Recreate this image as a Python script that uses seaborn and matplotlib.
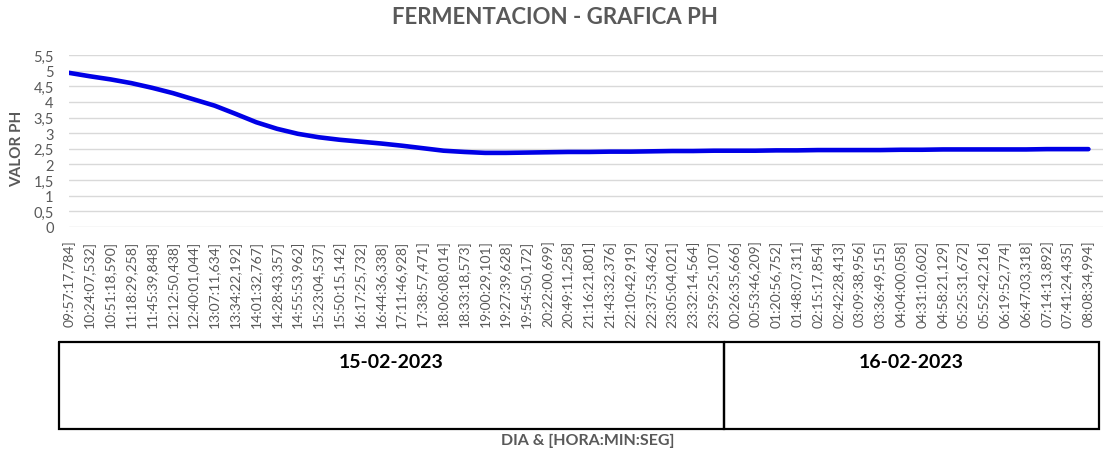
import matplotlib
matplotlib.use("Agg")
import matplotlib.pyplot as plt
import matplotlib.transforms as mtransforms
import numpy as np
import pandas as pd
import seaborn as sns

# Sample timestamps (one per category label) and the day each belongs to
times = [
    "09:57:17,784", "10:24:07,532", "10:51:18,590", "11:18:29,258", "11:45:39,848",
    "12:12:50,438", "12:40:01,044", "13:07:11,634", "13:34:22,192", "14:01:32,767",
    "14:28:43,357", "14:55:53,962", "15:23:04,537", "15:50:15,142", "16:17:25,732",
    "16:44:36,338", "17:11:46,928", "17:38:57,471", "18:06:08,014", "18:33:18,573",
    "19:00:29,101", "19:27:39,628", "19:54:50,172", "20:22:00,699", "20:49:11,258",
    "21:16:21,801", "21:43:32,376", "22:10:42,919", "22:37:53,462", "23:05:04,021",
    "23:32:14,564", "23:59:25,107",
    "00:26:35,666", "00:53:46,209", "01:20:56,752", "01:48:07,311", "02:15:17,854",
    "02:42:28,413", "03:09:38,956", "03:36:49,515", "04:04:00,058", "04:31:10,602",
    "04:58:21,129", "05:25:31,672", "05:52:42,216", "06:19:52,774", "06:47:03,318",
    "07:14:13,892", "07:41:24,435", "08:08:34,994",
]
days = ["15-02-2023"] * 32 + ["16-02-2023"] * 18

# pH readings
ph = [
    4.93, 4.82, 4.72, 4.60, 4.45, 4.28, 4.08, 3.88, 3.62, 3.35,
    3.14, 2.98, 2.87, 2.79, 2.73, 2.67, 2.60, 2.52, 2.44, 2.40,
    2.37, 2.37, 2.38, 2.39, 2.40, 2.40, 2.41, 2.41, 2.42, 2.43,
    2.43, 2.44, 2.44, 2.44, 2.45, 2.45, 2.46, 2.46, 2.46, 2.46,
    2.47, 2.47, 2.48, 2.48, 2.48, 2.48, 2.48, 2.49, 2.49, 2.49,
]
yticks = [0, 0.5, 1, 1.5, 2, 2.5, 3, 3.5, 4, 4.5, 5, 5.5]

df = pd.DataFrame({"idx": np.arange(len(ph)), "ph": ph, "hora": times, "dia": days})

sns.set_theme(style="white")
plt.rcParams["font.family"] = ["Lato", "DejaVu Sans"]

GRAY = "#595959"
W, H = 1103, 452
fig = plt.figure(figsize=(W / 100, H / 100), dpi=100)
ax = fig.add_axes([69 / W, 1 - 228 / H, 1 - 69 / W, (228 - 56) / H])

sns.lineplot(data=df, x="idx", y="ph", ax=ax, color="#0000E6", linewidth=3.3, legend=False)

ax.set_ylim(0, 5.5)
ax.set_xlim(0, 49.7)
ax.set_yticks(yticks)
ax.set_yticklabels([f"{v:g}".replace(".", ",") for v in yticks], color=GRAY, fontsize=10.5)
ax.set_xticks(df["idx"])
ax.set_xticklabels([t + "]" for t in df["hora"]], rotation=90, color=GRAY, fontsize=10,
                   va="top", ha="center")
ax.tick_params(axis="x", length=0, pad=9)
ax.tick_params(axis="y", length=0, pad=11)
ax.grid(axis="y", color="#D9D9D9", linewidth=1.0)
ax.grid(axis="x", visible=False)
for s in ax.spines.values():
    s.set_visible(False)
ax.set_xlabel("")
ax.set_ylabel("")

# Day boxes of the multi-level category axis
tr = mtransforms.blended_transform_factory(ax.transData, fig.transFigure)
y_top, y_bot = 1 - 343 / H, 1 - 430 / H
day_names = list(dict.fromkeys(days))
start = -0.5
for d in day_names:
    n = days.count(d)
    end = start + n
    xs = [start, end, end, start, start]
    ys = [y_top, y_top, y_bot, y_bot, y_top]
    ax.plot(xs, ys, transform=tr, color="black", linewidth=1.6, clip_on=False,
            solid_joinstyle="miter")
    ax.text((start + end) / 2, 1 - 362 / H, d, transform=tr, ha="center", va="center",
            fontsize=14, fontweight="bold", color="black")
    start = end

fig.text(555 / W, 1 - 18 / H, "FERMENTACION - GRAFICA PH", ha="center", va="center",
         fontsize=16, fontweight="bold", color=GRAY)
fig.text(17 / W, 1 - 149 / H, "VALOR PH", ha="center", va="center", rotation=90,
         fontsize=11, fontweight="bold", color=GRAY)
fig.text(588 / W, 1 - 441 / H, "DIA & [HORA:MIN:SEG]", ha="center", va="center",
         fontsize=11.5, fontweight="bold", color=GRAY)

fig.savefig("out.png", dpi=100)
